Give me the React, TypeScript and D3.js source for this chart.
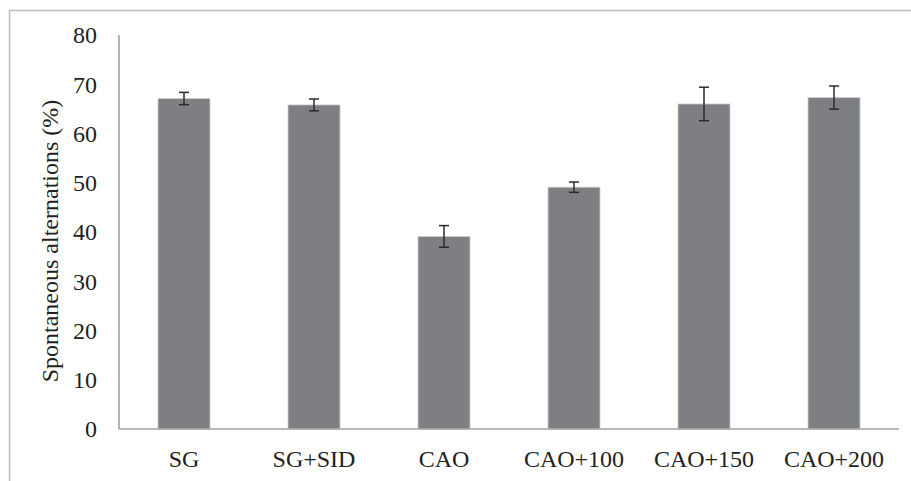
import React from 'react';
import { scaleBand, scaleLinear } from 'd3';

const width = 911;
const height = 481;

const categories = ['SG', 'SG+SID', 'CAO', 'CAO+100', 'CAO+150', 'CAO+200'];
const means = [67.1, 65.8, 39.1, 49.1, 66.0, 67.3];
const errors = [1.25, 1.2, 2.2, 1.05, 3.4, 2.35];
const yTicks = [0, 10, 20, 30, 40, 50, 60, 70, 80];

const font = '"Liberation Serif", "Times New Roman", serif';
const textColor = '#231f20';

const x = scaleBand<string>()
    .domain(categories)
    .range([119, 899])
    .paddingInner(0.6)
    .paddingOuter(0.3);

const y = scaleLinear()
    .domain([0, 80])
    .range([429, 35]);

export default function App() {
    return (
        <svg
            width={width}
            height={height}
            style={{ position: 'absolute', left: 0, top: 0, background: '#fff' }}
        >
            {/* outer frame, only top and left visible */}
            <line x1={9} y1={10.5} x2={911} y2={10.5} stroke="#bdbdbd" strokeWidth={1.5} />
            <line x1={9.5} y1={10} x2={9.5} y2={481} stroke="#bdbdbd" strokeWidth={1.5} />

            {/* bars */}
            {categories.map((c, i) => (
                <rect
                    key={c}
                    x={x(c)}
                    y={y(means[i])}
                    width={x.bandwidth()}
                    height={y(0) - y(means[i])}
                    fill="#7e7f83"
                    stroke="#d0d0d0"
                    strokeWidth={0.8}
                />
            ))}

            {/* error bars */}
            {categories.map((c, i) => {
                const cx = (x(c) as number) + x.bandwidth() / 2;
                const top = y(means[i] + errors[i]);
                const bot = y(means[i] - errors[i]);
                return (
                    <g key={c} stroke="#2b2b2b" strokeWidth={1.5}>
                        <line x1={cx} x2={cx} y1={top} y2={bot} />
                        <line x1={cx - 5} x2={cx + 5} y1={top} y2={top} />
                        <line x1={cx - 5} x2={cx + 5} y1={bot} y2={bot} />
                    </g>
                );
            })}

            {/* axes */}
            <line x1={119} y1={35} x2={119} y2={429} stroke="#9a9a9a" strokeWidth={1.5} />
            <line x1={119} y1={429} x2={899} y2={429} stroke="#a3a3a3" strokeWidth={1.5} />

            {/* y tick labels */}
            {yTicks.map(t => (
                <text
                    key={t}
                    x={97}
                    y={y(t)}
                    dy="0.35em"
                    textAnchor="end"
                    fontFamily={font}
                    fontSize={24}
                    fill={textColor}
                >
                    {t}
                </text>
            ))}

            {/* category labels */}
            {categories.map(c => (
                <text
                    key={c}
                    x={(x(c) as number) + x.bandwidth() / 2}
                    y={467}
                    textAnchor="middle"
                    fontFamily={font}
                    fontSize={24}
                    fill={textColor}
                >
                    {c}
                </text>
            ))}

            {/* y axis title */}
            <text
                transform="translate(58,241) rotate(-90)"
                textAnchor="middle"
                fontFamily={font}
                fontSize={24}
                fill={textColor}
            >
                Spontaneous alternations (%)
            </text>
        </svg>
    );
}
